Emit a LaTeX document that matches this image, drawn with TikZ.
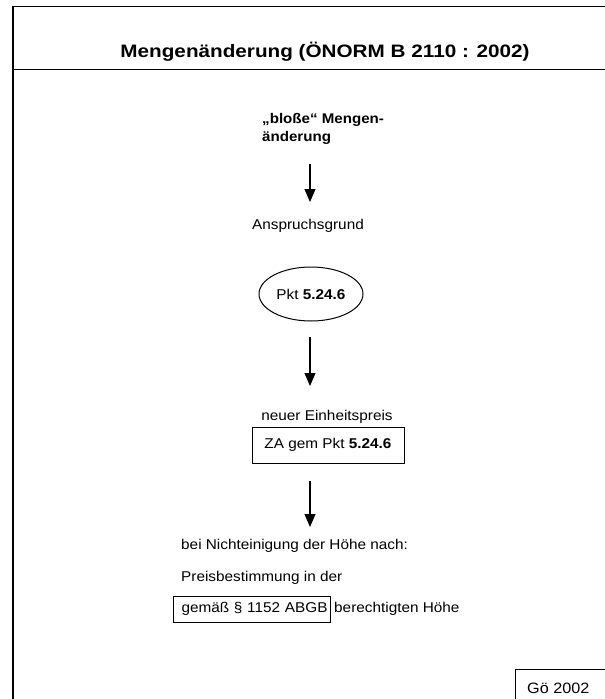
\documentclass[tikz,border=0pt]{standalone}
\usepackage{fontspec}
\setmainfont{Liberation Sans}[FakeStretch=1.08]
\newfontfamily\titlefont{Liberation Sans}[FakeStretch=1.15]
\usetikzlibrary{positioning,shapes.geometric,arrows.meta}

\tikzset{
  txt/.style={inner sep=0pt, font=\fontsize{14.2}{17}\selectfont},
  flow/.style={-{Triangle[length=13pt,width=11pt]}, line width=1.1pt},
  frameline/.style={line width=1.5pt},
  boxline/.style={draw, line width=1pt}
}

\begin{document}
\begin{tikzpicture}[x=1pt,y=-1pt]
    \useasboundingbox (0,0) rectangle (605,699);
    % frame
    \draw[frameline] (605,6.5) -- (13,6.5) -- (13,699);
    \draw[frameline] (13,69.5) -- (605,69.5);
    \node[inner sep=0pt, font=\titlefont\fontsize{18}{20}\selectfont\bfseries] (title) at (325,52)
      {Mengenänderung (ÖNORM B 2110 : 2002)};

    \node[txt, anchor=west, align=left, font=\fontsize{14}{18}\selectfont\bfseries] (start) at (262,129)
      {„bloße“ Mengen-\\änderung};
    \node[txt] (grund) at (308,226) {Anspruchsgrund};
    \node[ellipse, boxline, minimum width=104pt, minimum height=54pt, inner sep=0pt, txt] (pkt) at (311,294)
      {Pkt \textbf{5.24.6}};
    \node[txt] (neu) at (327,417) {neuer Einheitspreis};
    \node[boxline, txt, minimum width=152pt, minimum height=36pt] (za) at (328,445)
      {ZA gem Pkt \textbf{5.24.6}};

    % arrows
    \coordinate (a1s) at (310,164);
    \coordinate (a1e) at (310,202);
    \coordinate (a2s) at (310,337);
    \coordinate (a2e) at (310,386);
    \coordinate (a3s) at (310,481);
    \coordinate (a3e) at (310,527);
    \draw[flow] (a1s) -- (a1e);
    \draw[flow] (a2s) -- (a2e);
    \draw[flow] (a3s) -- (a3e);

    \node[txt, anchor=west] (nicht) at (181,546) {bei Nichteinigung der Höhe nach:};
    \node[txt, anchor=west] (preis) at (181,578) {Preisbestimmung in der};
    \node[boxline, txt, anchor=west, text width=157pt, minimum height=26pt, align=left] (abgb) at (173,609)
      {\hspace*{8pt}gemäß § 1152 ABGB};
    \node[txt, anchor=west] (hoehe) at ([xshift=3pt]abgb.east) {berechtigten Höhe};

    % stamp
    \draw[line width=0.8pt] (605,669) -- (515,669) -- (515,699);
    \node[txt, anchor=west, font=\fontsize{15}{17}\selectfont] (stamp) at (527,688) {Gö 2002};
\end{tikzpicture}
\end{document}
